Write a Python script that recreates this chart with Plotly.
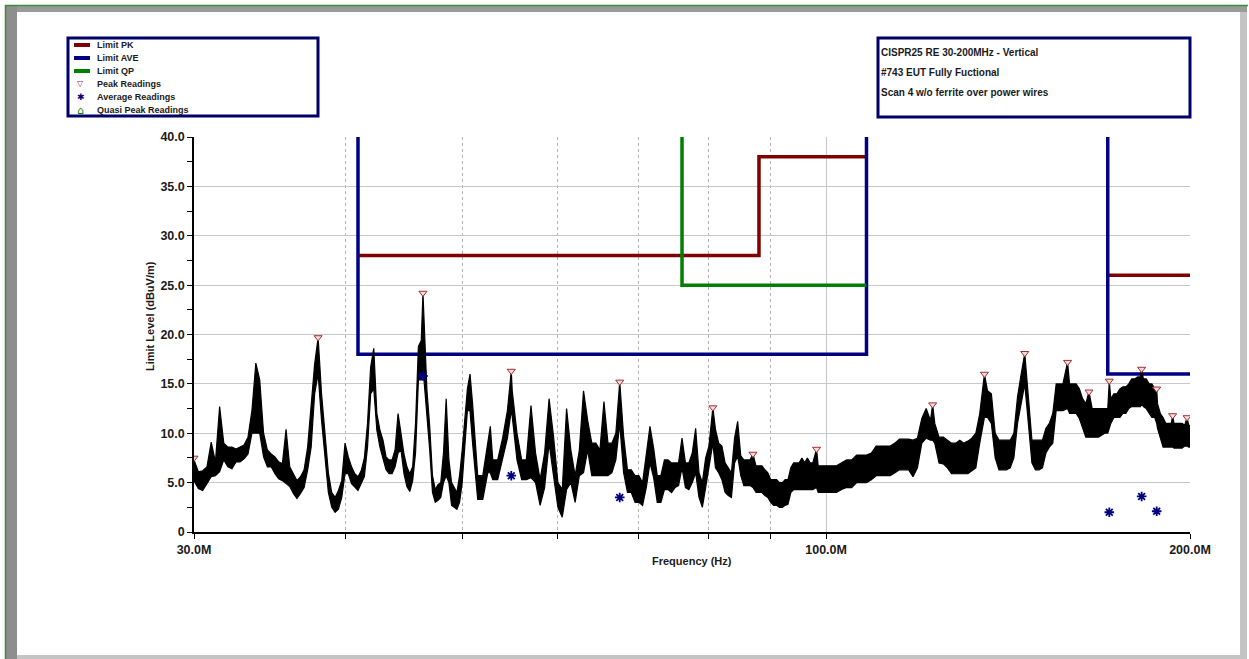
import plotly.graph_objects as go

W, H = 1249, 659

# ---------------- data ----------------
# measured scan: lower and upper edge of the noisy trace at each frequency
scan_freq_mhz = [
    30.0, 30.25, 30.5, 30.75, 31.0, 31.25, 31.5, 31.75, 32.0, 32.25, 32.5, 32.75,
    33.0, 33.25, 33.5, 33.75, 34.0, 34.25, 34.5, 34.75, 35.0, 35.25, 35.5, 35.75,
    36.0, 36.25, 36.5, 36.75, 37.0, 37.25, 37.5, 37.75, 38.0, 38.25, 38.5, 38.75,
    39.0, 39.25, 39.5, 39.75, 40.0, 40.25, 40.5, 40.75, 41.0, 41.25, 41.5, 41.75,
    42.0, 42.25, 42.5, 42.75, 43.0, 43.25, 43.5, 43.75, 44.0, 44.25, 44.5, 44.75,
    45.0, 45.25, 45.5, 45.75, 46.0, 46.25, 46.4, 46.5, 46.75, 47.0, 47.25, 47.5,
    47.75, 48.0, 48.25, 48.5, 48.75, 49.0, 49.25, 49.5, 49.75, 50.0,
    50.5, 50.75, 51.0, 51.5, 52.0, 52.5, 52.75, 53.0, 53.5, 54.0, 54.5, 54.9,
    55.0, 55.5, 56.0, 56.5, 57.0, 57.5, 58.0, 58.5, 59.0, 59.5, 60.0, 60.5,
    61.0, 61.5, 62.0, 62.5, 63.0, 63.5, 64.0, 64.5, 65.0, 65.5, 66.0, 66.5,
    67.0, 67.5, 68.0, 68.5, 69.0, 69.5, 70.0, 70.5, 71.0, 71.5, 72.0, 72.5,
    73.0, 73.5, 74.0, 74.5, 75.0, 75.5, 76.0, 76.5, 77.0, 77.5, 78.0, 78.5,
    79.0, 79.5, 80.0, 80.6, 81.0, 81.5, 82.0, 82.5, 83.0, 83.5, 84.0, 84.5,
    85.0, 85.5, 86.0, 86.5, 87.0, 87.5, 88.0, 88.5, 89.0, 89.5, 90.0, 90.5,
    91.0, 91.5, 92.0, 92.5, 93.0, 93.5, 94.0, 94.5, 95.0, 95.5, 96.0, 96.5,
    97.0, 97.5, 98.2, 98.5, 99.0, 99.5, 100.0,
    101, 102, 103, 104, 105, 106, 107, 108, 109, 110, 111, 112, 113, 114, 115,
    116, 117, 118, 119, 120, 121, 122, 122.5, 123, 124, 125, 126, 127, 128, 129,
    130, 131, 132, 133, 134, 135.2, 136, 137, 138, 139, 140, 141, 142, 143, 144,
    145, 146, 147, 148, 149, 150, 151, 152, 153, 154, 155, 156, 157, 158.4, 159,
    160, 161, 162, 163, 164, 165, 166, 167, 168, 169, 170, 171, 171.5, 172, 173,
    174, 175, 176, 177, 178, 179, 180, 181, 182, 182.4, 183, 184, 185, 186, 187,
    187.7, 188, 189, 190, 191, 192, 193, 193.5, 194, 195, 196, 197, 198, 198.9,
    199.5, 200,
]
scan_level_low = [
    5.2, 4.4, 4.2, 4.9, 5.6, 5.7, 6.1, 7.3, 6.6, 6.4, 7.1, 7.1,
    7.4, 7.9, 10.0, 10.0, 10.0, 7.6, 6.6, 6.6, 5.9, 5.4, 5.2, 4.9,
    4.6, 3.9, 3.4, 3.9, 4.5, 6.3, 8.6, 14.0, 16.0, 11.3, 8.0, 4.0,
    2.5, 2.0, 2.3, 3.5, 5.9, 5.9, 4.9, 4.6, 4.2, 4.9, 5.6, 8.6,
    14.0, 14.5, 10.3, 8.6, 7.3, 6.3, 5.9, 5.9, 6.6, 8.0, 8.3, 5.9,
    4.6, 4.1, 5.2, 8.0, 15.4, 15.4, 16.7, 15.4, 11.3, 8.3, 4.0, 3.0,
    3.2, 3.5, 5.0, 5.7, 5.0, 2.7, 2.5, 2.3, 3.0, 5.0,
    12.3, 12.3, 9.0, 3.3, 3.3, 6.0, 6.0, 5.3, 5.3, 7.3, 9.5, 12.3,
    11.7, 7.3, 5.3, 5.3, 5.5, 5.0, 2.7, 4.5, 9.0, 5.7, 2.5, 1.5,
    4.3, 5.0, 3.0, 5.7, 6.0, 8.3, 5.7, 5.7, 5.7, 5.7, 5.7, 6.0,
    7.3, 11.0, 6.0, 4.0, 4.0, 3.0, 3.0, 2.7, 4.5, 7.0, 5.5, 3.0,
    3.0, 4.3, 4.3, 4.0, 4.5, 4.7, 6.5, 4.5, 4.3, 5.0, 6.0, 3.5,
    2.5, 4.5, 6.7, 9.0, 6.5, 6.0, 5.3, 4.0, 3.7, 3.5, 7.0, 7.7,
    5.7, 4.7, 4.7, 4.7, 4.5, 4.0, 4.0, 4.0, 3.7, 3.5, 3.0, 2.7,
    2.7, 2.5, 2.5, 2.7, 2.8, 4.0, 4.3, 4.3, 4.3, 4.3, 4.3, 4.3,
    4.3, 4.3, 4.5, 4.0, 4.0, 4.0, 4.0,
    4.0, 4.0, 4.3, 4.5, 4.5, 5.0, 5.0, 5.0, 5.3, 5.7, 5.7, 5.7, 5.7, 6.0, 6.3,
    6.3, 6.3, 5.6, 6.5, 9.0, 9.5, 9.3, 9.3, 9.0, 7.0, 6.9, 6.5, 5.9, 5.9, 5.9,
    5.9, 5.9, 6.2, 6.5, 9.0, 11.6, 11.6, 11.0, 7.5, 6.3, 6.3, 6.3, 6.5, 7.5, 11.0,
    13.0, 15.0, 11.0, 7.0, 6.3, 6.3, 6.5, 8.0, 8.6, 9.0, 12.3, 12.3, 12.3, 12.5, 12.0,
    12.0, 12.0, 11.5, 10.5, 9.6, 9.6, 9.6, 9.6, 9.6, 9.8, 10.0, 10.0, 10.5, 11.0, 11.6,
    11.6, 11.6, 12.0, 12.0, 12.5, 12.7, 12.7, 12.7, 12.7, 13.0, 12.7, 12.5, 12.0, 11.6, 11.6,
    11.0, 10.5, 9.5, 8.6, 8.6, 8.6, 8.6, 8.6, 8.5, 8.5, 8.5, 8.5, 8.7, 8.7,
    8.6, 8.6,
]
scan_level_high = [
    7.3, 6.1, 6.2, 6.6, 9.1, 7.1, 12.7, 9.0, 8.6, 8.6, 8.4, 8.6,
    8.8, 9.6, 12.3, 17.1, 15.4, 10.0, 8.3, 7.9, 7.6, 7.1, 6.9, 10.4,
    6.6, 5.9, 5.2, 5.6, 6.3, 8.6, 13.0, 17.0, 19.7, 14.0, 10.0, 6.0,
    4.0, 3.5, 4.2, 5.2, 9.0, 7.6, 6.6, 5.9, 5.6, 6.2, 7.5, 11.0,
    16.7, 18.6, 12.0, 10.3, 9.3, 7.6, 7.3, 7.3, 8.3, 12.0, 10.0, 7.9,
    6.6, 5.9, 6.6, 11.0, 18.8, 19.4, 24.2, 21.8, 14.4, 10.7, 5.7, 4.3,
    4.8, 5.0, 8.0, 13.5, 7.3, 5.0, 4.5, 4.0, 5.7, 8.3,
    14.5, 16.0, 13.0, 5.7, 5.7, 9.0, 10.7, 7.3, 7.3, 9.5, 12.3, 16.3,
    14.3, 10.0, 7.3, 7.3, 12.8, 8.0, 5.3, 8.0, 13.5, 9.7, 5.0, 4.3,
    12.5, 8.3, 5.7, 8.3, 14.3, 11.3, 9.0, 9.0, 8.3, 13.2, 9.0, 9.0,
    10.0, 15.2, 9.7, 6.3, 6.3, 5.7, 5.7, 5.0, 8.0, 10.7, 8.5, 5.7,
    5.7, 7.3, 7.3, 7.0, 7.0, 7.0, 9.5, 7.0, 7.0, 8.0, 10.5, 6.0,
    5.0, 7.5, 8.7, 12.6, 10.4, 9.0, 8.7, 7.0, 6.5, 6.0, 9.5, 11.2,
    7.7, 7.3, 7.3, 7.3, 7.9, 6.7, 6.7, 6.7, 6.3, 6.0, 5.3, 5.3,
    5.3, 5.0, 5.0, 5.3, 5.3, 6.5, 7.0, 7.0, 7.0, 7.5, 7.0, 7.5,
    7.0, 7.0, 8.4, 6.7, 6.7, 6.7, 6.7,
    6.7, 6.7, 7.0, 7.3, 7.3, 7.8, 7.8, 7.8, 8.0, 8.7, 8.7, 8.7, 8.7, 9.0, 9.4,
    9.4, 9.4, 9.3, 9.5, 11.5, 12.5, 11.3, 12.9, 11.0, 9.6, 9.6, 9.3, 9.0, 9.0, 9.3,
    9.0, 9.2, 9.5, 10.0, 12.0, 16.0, 14.3, 14.0, 10.0, 9.3, 9.3, 9.3, 9.3, 10.0, 13.7,
    16.0, 18.1, 13.7, 9.3, 9.3, 9.3, 9.3, 10.5, 11.0, 12.0, 15.0, 15.0, 15.0, 17.2, 15.0,
    15.0, 15.0, 14.5, 13.5, 13.0, 14.2, 12.5, 12.5, 12.5, 12.5, 12.5, 12.5, 15.3, 13.5, 14.0,
    14.0, 14.5, 14.7, 14.7, 15.0, 15.5, 15.5, 15.7, 15.7, 16.5, 15.5, 15.5, 15.0, 15.0, 14.5,
    14.5, 13.0, 12.0, 11.6, 11.0, 11.0, 11.0, 11.8, 11.0, 11.0, 11.0, 11.0, 10.8, 11.6,
    10.8, 10.8,
]

peak_freq_mhz = [30.0, 38.0, 46.4, 54.9, 67.5, 80.6, 87.0, 98.2, 122.5,
                 135.2, 146.0, 158.4, 165.0, 171.5, 182.4, 187.7, 193.5, 198.9]
peak_level = [7.5, 19.7, 24.2, 16.3, 15.2, 12.6, 7.9, 8.4, 12.9,
              16.0, 18.1, 17.2, 14.2, 15.3, 16.5, 14.5, 11.8, 11.6]

avg_freq_mhz = [46.4, 54.9, 67.5, 171.5, 182.4, 187.7]
avg_level = [15.8, 5.7, 3.5, 2.0, 3.6, 2.1]

qp_freq_mhz = []
qp_level = []

limit_pk_freq = [41, 88, 88, 108, None, 171, 200]
limit_pk_level = [28, 28, 38, 38, None, 26, 26]
limit_ave_freq = [41, 41, 108, 108, None, 171, 171, 200]
limit_ave_level = [60, 18, 18, 60, None, 60, 16, 16]
limit_qp_freq = [76, 76, 108]
limit_qp_level = [60, 25, 25]

y_tick_vals = [0, 5, 10, 15, 20, 25, 30, 35, 40]
y_tick_text = ["0", "5.0", "10.0", "15.0", "20.0", "25.0", "30.0", "35.0", "40.0"]
y_minor_vals = [2.5, 7.5, 12.5, 17.5, 22.5, 27.5, 32.5, 37.5]
x_tick_vals = [30, 100, 200]
x_tick_text = ["30.0M", "100.0M", "200.0M"]
x_minor_vals = [40, 50, 60, 70, 80, 90]

legend_labels = ["Limit PK", "Limit AVE", "Limit QP",
                 "Peak Readings", "Average Readings", "Quasi Peak Readings"]
info_lines = ["CISPR25 RE 30-200MHz - Vertical",
              "#743 EUT Fully Fuctional",
              "Scan 4 w/o ferrite over power wires"]
x_title = "Frequency (Hz)"
y_title = "Limit Level (dBuV/m)"

# ---------------- styling ----------------
PK = "#800000"
AVE = "#000080"
QP = "#008000"
FONT = "Liberation Sans"
TXT = "#1a1a1a"


def fx(x):
    return x / W


def fy(y):
    return 1 - y / H


fig = go.Figure()
fig.add_trace(go.Scatter(x=limit_pk_freq, y=limit_pk_level, mode="lines",
                         line=dict(color=PK, width=3.5), name=legend_labels[0]))
fig.add_trace(go.Scatter(x=limit_ave_freq, y=limit_ave_level, mode="lines",
                         line=dict(color=AVE, width=3.5), name=legend_labels[1]))
fig.add_trace(go.Scatter(x=limit_qp_freq, y=limit_qp_level, mode="lines",
                         line=dict(color=QP, width=3.5), name=legend_labels[2]))
fig.add_trace(go.Scatter(x=scan_freq_mhz, y=scan_level_low, mode="lines",
                         line=dict(color="black", width=1.2), name="Scan low"))
fig.add_trace(go.Scatter(x=scan_freq_mhz, y=scan_level_high, mode="lines",
                         line=dict(color="black", width=1.2), fill="tonexty",
                         fillcolor="black", name="Scan high"))
fig.add_trace(go.Scatter(x=peak_freq_mhz, y=peak_level, mode="markers",
                         marker=dict(symbol="triangle-down", size=7, color="#f6dada",
                                     line=dict(color="#a03030", width=1)),
                         name=legend_labels[3]))
fig.add_trace(go.Scatter(x=avg_freq_mhz, y=avg_level, mode="markers",
                         marker=dict(symbol="asterisk-open", size=8, color=AVE,
                                     line=dict(color=AVE, width=1.8)),
                         name=legend_labels[4]))
fig.add_trace(go.Scatter(x=qp_freq_mhz, y=qp_level, mode="markers",
                         marker=dict(symbol="pentagon-open", size=7, color=QP),
                         name=legend_labels[5]))

shapes = []
# outer frame / bevel
shapes.append(dict(type="rect", xref="paper", yref="paper", x0=fx(6), x1=fx(1247), y0=fy(6), y1=fy(12),
                   fillcolor="#9a9a9a", line=dict(width=0)))
shapes.append(dict(type="rect", xref="paper", yref="paper", x0=fx(6), x1=fx(17), y0=fy(6), y1=fy(659),
                   fillcolor="#8e8e8e", line=dict(width=0)))
shapes.append(dict(type="rect", xref="paper", yref="paper", x0=fx(1240), x1=fx(1247), y0=fy(12), y1=fy(659),
                   fillcolor="#c4c4c4", line=dict(width=0)))
shapes.append(dict(type="rect", xref="paper", yref="paper", x0=fx(17), x1=fx(1247), y0=fy(655), y1=fy(659),
                   fillcolor="#c4c4c4", line=dict(width=0)))
shapes.append(dict(type="line", xref="paper", yref="paper", x0=fx(5), x1=fx(1248), y0=fy(5.5), y1=fy(5.5),
                   line=dict(color="#3f8a3f", width=1.5)))
shapes.append(dict(type="line", xref="paper", yref="paper", x0=fx(5.5), x1=fx(5.5), y0=fy(5), y1=fy(659),
                   line=dict(color="#3f8a3f", width=1.5)))
# legend box and info box
shapes.append(dict(type="rect", xref="paper", yref="paper", x0=fx(68), x1=fx(318), y0=fy(38), y1=fy(116),
                   line=dict(color="#00006a", width=3), fillcolor="white"))
shapes.append(dict(type="rect", xref="paper", yref="paper", x0=fx(878), x1=fx(1190), y0=fy(38), y1=fy(117),
                   line=dict(color="#00006a", width=3), fillcolor="white"))
# legend line samples
for yy, col in [(45, PK), (58, AVE), (71, QP)]:
    shapes.append(dict(type="line", xref="paper", yref="paper", x0=fx(74), x1=fx(90), y0=fy(yy), y1=fy(yy),
                       line=dict(color=col, width=4)))

annotations = []
leg_y = [45, 58, 71, 84, 97, 110]
for lab, yy in zip(legend_labels, leg_y):
    annotations.append(dict(xref="paper", yref="paper", x=fx(95), y=fy(yy), text=lab, showarrow=False,
                            xanchor="left", yanchor="middle",
                            font=dict(family=FONT, size=9, color=TXT, weight="bold")))
annotations.append(dict(xref="paper", yref="paper", x=fx(81), y=fy(84), text="▽", showarrow=False,
                        xanchor="center", yanchor="middle", font=dict(family="DejaVu Sans", size=8, color="#a03030")))
annotations.append(dict(xref="paper", yref="paper", x=fx(81), y=fy(97), text="✱", showarrow=False,
                        xanchor="center", yanchor="middle", font=dict(family="DejaVu Sans", size=9, color=AVE)))
annotations.append(dict(xref="paper", yref="paper", x=fx(81), y=fy(110), text="⌂", showarrow=False,
                        xanchor="center", yanchor="middle", font=dict(family="DejaVu Sans", size=11, color=QP)))
for line, yy in zip(info_lines, [52, 72, 92]):
    annotations.append(dict(xref="paper", yref="paper", x=fx(879), y=fy(yy), text=line, showarrow=False,
                            xanchor="left", yanchor="middle",
                            font=dict(family=FONT, size=10, color=TXT, weight="bold")))
annotations.append(dict(xref="paper", yref="paper", x=fx(692), y=fy(561), text=x_title, showarrow=False,
                        xanchor="center", yanchor="middle",
                        font=dict(family=FONT, size=11, color=TXT, weight="bold")))
annotations.append(dict(xref="paper", yref="paper", x=fx(150), y=fy(316), text=y_title, showarrow=False,
                        textangle=-90, xanchor="center", yanchor="middle",
                        font=dict(family=FONT, size=11, color=TXT, weight="bold")))

fig.update_layout(
    width=W, height=H,
    autosize=False,
    margin=dict(l=0, r=0, t=0, b=0, pad=0, autoexpand=False),
    paper_bgcolor="white", plot_bgcolor="white",
    showlegend=False,
    font=dict(family=FONT, color=TXT),
    xaxis=dict(
        type="log", range=[1.4771213, 2.3010300],
        domain=[194 / W, 1190 / W],
        automargin=False,
        tickmode="array", tickvals=x_tick_vals, ticktext=x_tick_text,
        ticks="outside", ticklen=5, tickcolor="black", tickwidth=1,
        tickfont=dict(family=FONT, size=12.5, color=TXT, weight="bold"),
        showgrid=True, gridcolor="#c8c8c8", gridwidth=1,
        showline=True, linecolor="black", linewidth=1.5,
        zeroline=False,
        minor=dict(tickmode="array", tickvals=x_minor_vals, ticks="outside", ticklen=5,
                   tickcolor="black", showgrid=True, gridcolor="#b4b4b4", griddash="3px,3px", gridwidth=1),
    ),
    yaxis=dict(
        range=[0, 40],
        domain=[1 - 532 / H, 1 - 137 / H],
        automargin=False,
        tickmode="array", tickvals=y_tick_vals, ticktext=y_tick_text,
        ticks="outside", ticklen=5, tickcolor="black", tickwidth=1,
        tickfont=dict(family=FONT, size=12.5, color=TXT, weight="bold"),
        showgrid=True, gridcolor="#c8c8c8", gridwidth=1,
        showline=True, linecolor="black", linewidth=1.5,
        zeroline=False,
        minor=dict(tickmode="array", tickvals=y_minor_vals, ticks="outside", ticklen=5,
                   tickcolor="black", showgrid=False),
    ),
    shapes=shapes,
    annotations=annotations,
)

fig.write_html("out.html", config={"displayModeBar": False, "responsive": False},
               post_script="document.body.style.margin='0';document.body.style.overflow='hidden';")
